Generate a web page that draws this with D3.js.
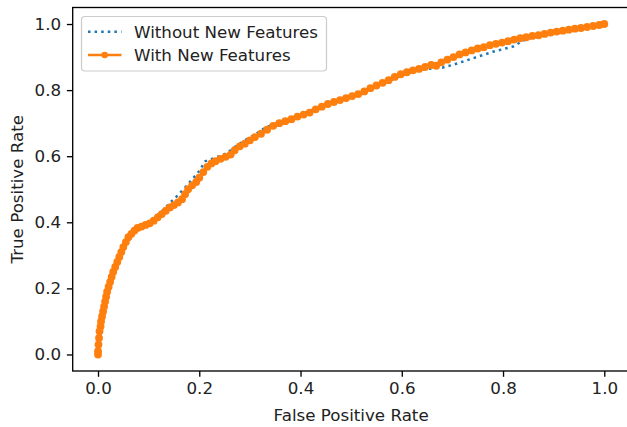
<!DOCTYPE html>
<html>
<head>
<meta charset="utf-8">
<script src="https://cdn.jsdelivr.net/npm/d3@7"></script>
<style>
  body { margin: 0; background: #fff; }
  text { font-family: "DejaVu Sans", sans-serif; }
</style>
</head>
<body>
<div id="chart"></div>
<script>
// ROC curve values
const fprWith = [
  0.000, 0.000, 0.001, 0.002, 0.003, 0.005, 0.006, 0.008, 0.010, 0.012,
  0.014, 0.016, 0.018, 0.021, 0.024, 0.027, 0.030, 0.034, 0.038, 0.042,
  0.046, 0.050, 0.055, 0.060, 0.066, 0.072, 0.078, 0.086, 0.094, 0.102,
  0.110, 0.118, 0.126, 0.134, 0.142, 0.150, 0.158, 0.166, 0.172, 0.178,
  0.186, 0.194, 0.200, 0.208, 0.216, 0.224, 0.232, 0.242, 0.252, 0.262,
  0.270, 0.280, 0.290, 0.300, 0.310, 0.322, 0.334, 0.346, 0.358, 0.370,
  0.382, 0.394, 0.406, 0.418, 0.430, 0.442, 0.454, 0.466, 0.478, 0.490,
  0.502, 0.514, 0.526, 0.538, 0.550, 0.562, 0.574, 0.586, 0.598, 0.610,
  0.622, 0.634, 0.646, 0.658, 0.668, 0.678, 0.690, 0.702, 0.714, 0.726,
  0.738, 0.750, 0.762, 0.774, 0.786, 0.798, 0.810, 0.822, 0.834, 0.846,
  0.858, 0.870, 0.882, 0.894, 0.906, 0.918, 0.930, 0.942, 0.954, 0.966,
  0.978, 0.990, 1.000
]
const tprWith = [
  0.000, 0.010, 0.030, 0.050, 0.070, 0.085, 0.100, 0.115, 0.130, 0.145,
  0.160, 0.175, 0.190, 0.205, 0.220, 0.235, 0.250, 0.265, 0.280, 0.295,
  0.310, 0.325, 0.340, 0.355, 0.365, 0.375, 0.383, 0.387, 0.392, 0.397,
  0.405, 0.415, 0.425, 0.435, 0.445, 0.452, 0.460, 0.470, 0.485, 0.500,
  0.512, 0.522, 0.535, 0.552, 0.568, 0.578, 0.585, 0.592, 0.598, 0.605,
  0.618, 0.630, 0.638, 0.648, 0.658, 0.668, 0.680, 0.692, 0.700, 0.706,
  0.712, 0.720, 0.726, 0.732, 0.742, 0.750, 0.758, 0.764, 0.770, 0.776,
  0.782, 0.788, 0.796, 0.806, 0.814, 0.822, 0.830, 0.840, 0.848, 0.854,
  0.860, 0.864, 0.870, 0.876, 0.874, 0.884, 0.892, 0.900, 0.908, 0.914,
  0.920, 0.926, 0.930, 0.936, 0.940, 0.944, 0.948, 0.953, 0.957, 0.960,
  0.964, 0.966, 0.970, 0.974, 0.977, 0.980, 0.983, 0.986, 0.988, 0.991,
  0.994, 0.997, 1.000
]
const fprWithout = [
  0.000, 0.001, 0.004, 0.008, 0.013, 0.018, 0.024, 0.031, 0.040, 0.049,
  0.058, 0.068, 0.080, 0.095, 0.110, 0.125, 0.140, 0.155, 0.170, 0.185,
  0.200, 0.212, 0.225, 0.240, 0.255, 0.270, 0.290, 0.310, 0.330, 0.350,
  0.375, 0.400, 0.425, 0.450, 0.475, 0.500, 0.525, 0.550, 0.575, 0.600,
  0.620, 0.640, 0.660, 0.680, 0.700, 0.720, 0.740, 0.760, 0.780, 0.800,
  0.820, 0.840, 0.860, 0.880, 0.900, 0.930, 0.960, 1.000
]
const tprWithout = [
  0.000, 0.040, 0.080, 0.120, 0.160, 0.200, 0.230, 0.260, 0.290, 0.320,
  0.350, 0.370, 0.385, 0.395, 0.412, 0.432, 0.455, 0.478, 0.502, 0.528,
  0.555, 0.585, 0.592, 0.600, 0.610, 0.628, 0.648, 0.665, 0.686, 0.698,
  0.710, 0.724, 0.742, 0.756, 0.768, 0.780, 0.795, 0.812, 0.828, 0.845,
  0.856, 0.862, 0.866, 0.868, 0.876, 0.886, 0.896, 0.906, 0.916, 0.924,
  0.932, 0.950, 0.960, 0.968, 0.974, 0.982, 0.990, 1.000
]
const ticks = [0.0, 0.2, 0.4, 0.6, 0.8, 1.0]
const seriesNames = ["Without New Features", "With New Features"]

const width = 627
const height = 427
const margin = { left: 72.7, right: 629.6, top: 7.5, bottom: 371 }
const fontSize = 16.7

const svg = d3.select("#chart").append("svg")
    .attr("width", width)
    .attr("height", height)

const x = d3.scaleLinear().domain([-0.05, 1.05]).range([margin.left, margin.right])
const y = d3.scaleLinear().domain([-0.05, 1.05]).range([margin.bottom, margin.top])

const withData = fprWith.map((v, i) => ({ x: v, y: tprWith[i] }))
const withoutData = fprWithout.map((v, i) => ({ x: v, y: tprWithout[i] }))

const line = d3.line().x(d => x(d.x)).y(d => y(d.y))

// blue dotted
svg.append("path")
    .datum(withoutData)
    .attr("fill", "none")
    .attr("stroke", "#1f77b4")
    .attr("stroke-width", 2.5)
    .attr("stroke-dasharray", "2.5,4.1")
    .attr("d", line)

// orange with point markers
svg.append("path")
    .datum(withData)
    .attr("fill", "none")
    .attr("stroke", "#ff7f0e")
    .attr("stroke-width", 2.5)
    .attr("d", line)

svg.selectAll(".dot")
    .data(withData)
    .enter()
    .append("circle")
    .attr("class", "dot")
    .attr("cx", d => x(d.x))
    .attr("cy", d => y(d.y))
    .attr("r", 3.9)
    .attr("fill", "#ff7f0e")

// axes
const xAxis = svg.append("g")
    .attr("transform", "translate(0," + margin.bottom + ")")
    .call(d3.axisBottom(x).tickValues(ticks).tickFormat(d3.format(".1f")).tickSize(5.8).tickPadding(5.8))
const yAxis = svg.append("g")
    .attr("transform", "translate(" + margin.left + ",0)")
    .call(d3.axisLeft(y).tickValues(ticks).tickFormat(d3.format(".1f")).tickSize(5.8).tickPadding(5.8))

;[xAxis, yAxis].forEach(g => {
    g.select(".domain").remove()
    g.selectAll(".tick line").attr("stroke", "#000").attr("stroke-width", 1.33)
    g.selectAll(".tick text")
        .attr("fill", "#222")
        .style("font-size", fontSize + "px")
        .style("font-family", "DejaVu Sans")
})

// spines
svg.append("rect")
    .attr("x", margin.left)
    .attr("y", margin.top)
    .attr("width", margin.right - margin.left)
    .attr("height", margin.bottom - margin.top)
    .attr("fill", "none")
    .attr("stroke", "#000")
    .attr("stroke-width", 1.33)

// axis labels
svg.append("text")
    .attr("x", (margin.left + margin.right) / 2)
    .attr("y", 421)
    .attr("text-anchor", "middle")
    .attr("fill", "#222")
    .style("font-size", fontSize + "px")
    .text("False Positive Rate")

svg.append("text")
    .attr("transform", "translate(23," + ((margin.top + margin.bottom) / 2) + ") rotate(-90)")
    .attr("text-anchor", "middle")
    .attr("fill", "#222")
    .style("font-size", fontSize + "px")
    .text("True Positive Rate")

// legend
const legend = svg.append("g")
legend.append("rect")
    .attr("x", 81.5)
    .attr("y", 16.5)
    .attr("width", 245)
    .attr("height", 54.5)
    .attr("rx", 3.5)
    .attr("fill", "#fff")
    .attr("fill-opacity", 0.8)
    .attr("stroke", "#cccccc")
    .attr("stroke-width", 1.2)

const rows = [31.7, 55]
legend.append("line")
    .attr("x1", 88).attr("x2", 121.5)
    .attr("y1", rows[0]).attr("y2", rows[0])
    .attr("stroke", "#1f77b4")
    .attr("stroke-width", 2.5)
    .attr("stroke-dasharray", "2.5,4.1")
legend.append("line")
    .attr("x1", 88).attr("x2", 121.5)
    .attr("y1", rows[1]).attr("y2", rows[1])
    .attr("stroke", "#ff7f0e")
    .attr("stroke-width", 2.5)
legend.append("circle")
    .attr("cx", 104.7).attr("cy", rows[1])
    .attr("r", 3.3)
    .attr("fill", "#ff7f0e")

legend.selectAll(".ltext")
    .data(seriesNames)
    .enter()
    .append("text")
    .attr("class", "ltext")
    .attr("x", 134)
    .attr("y", (d, i) => rows[i])
    .attr("dy", "0.36em")
    .attr("fill", "#222")
    .style("font-size", fontSize + "px")
    .text(d => d)
</script>
</body>
</html>
